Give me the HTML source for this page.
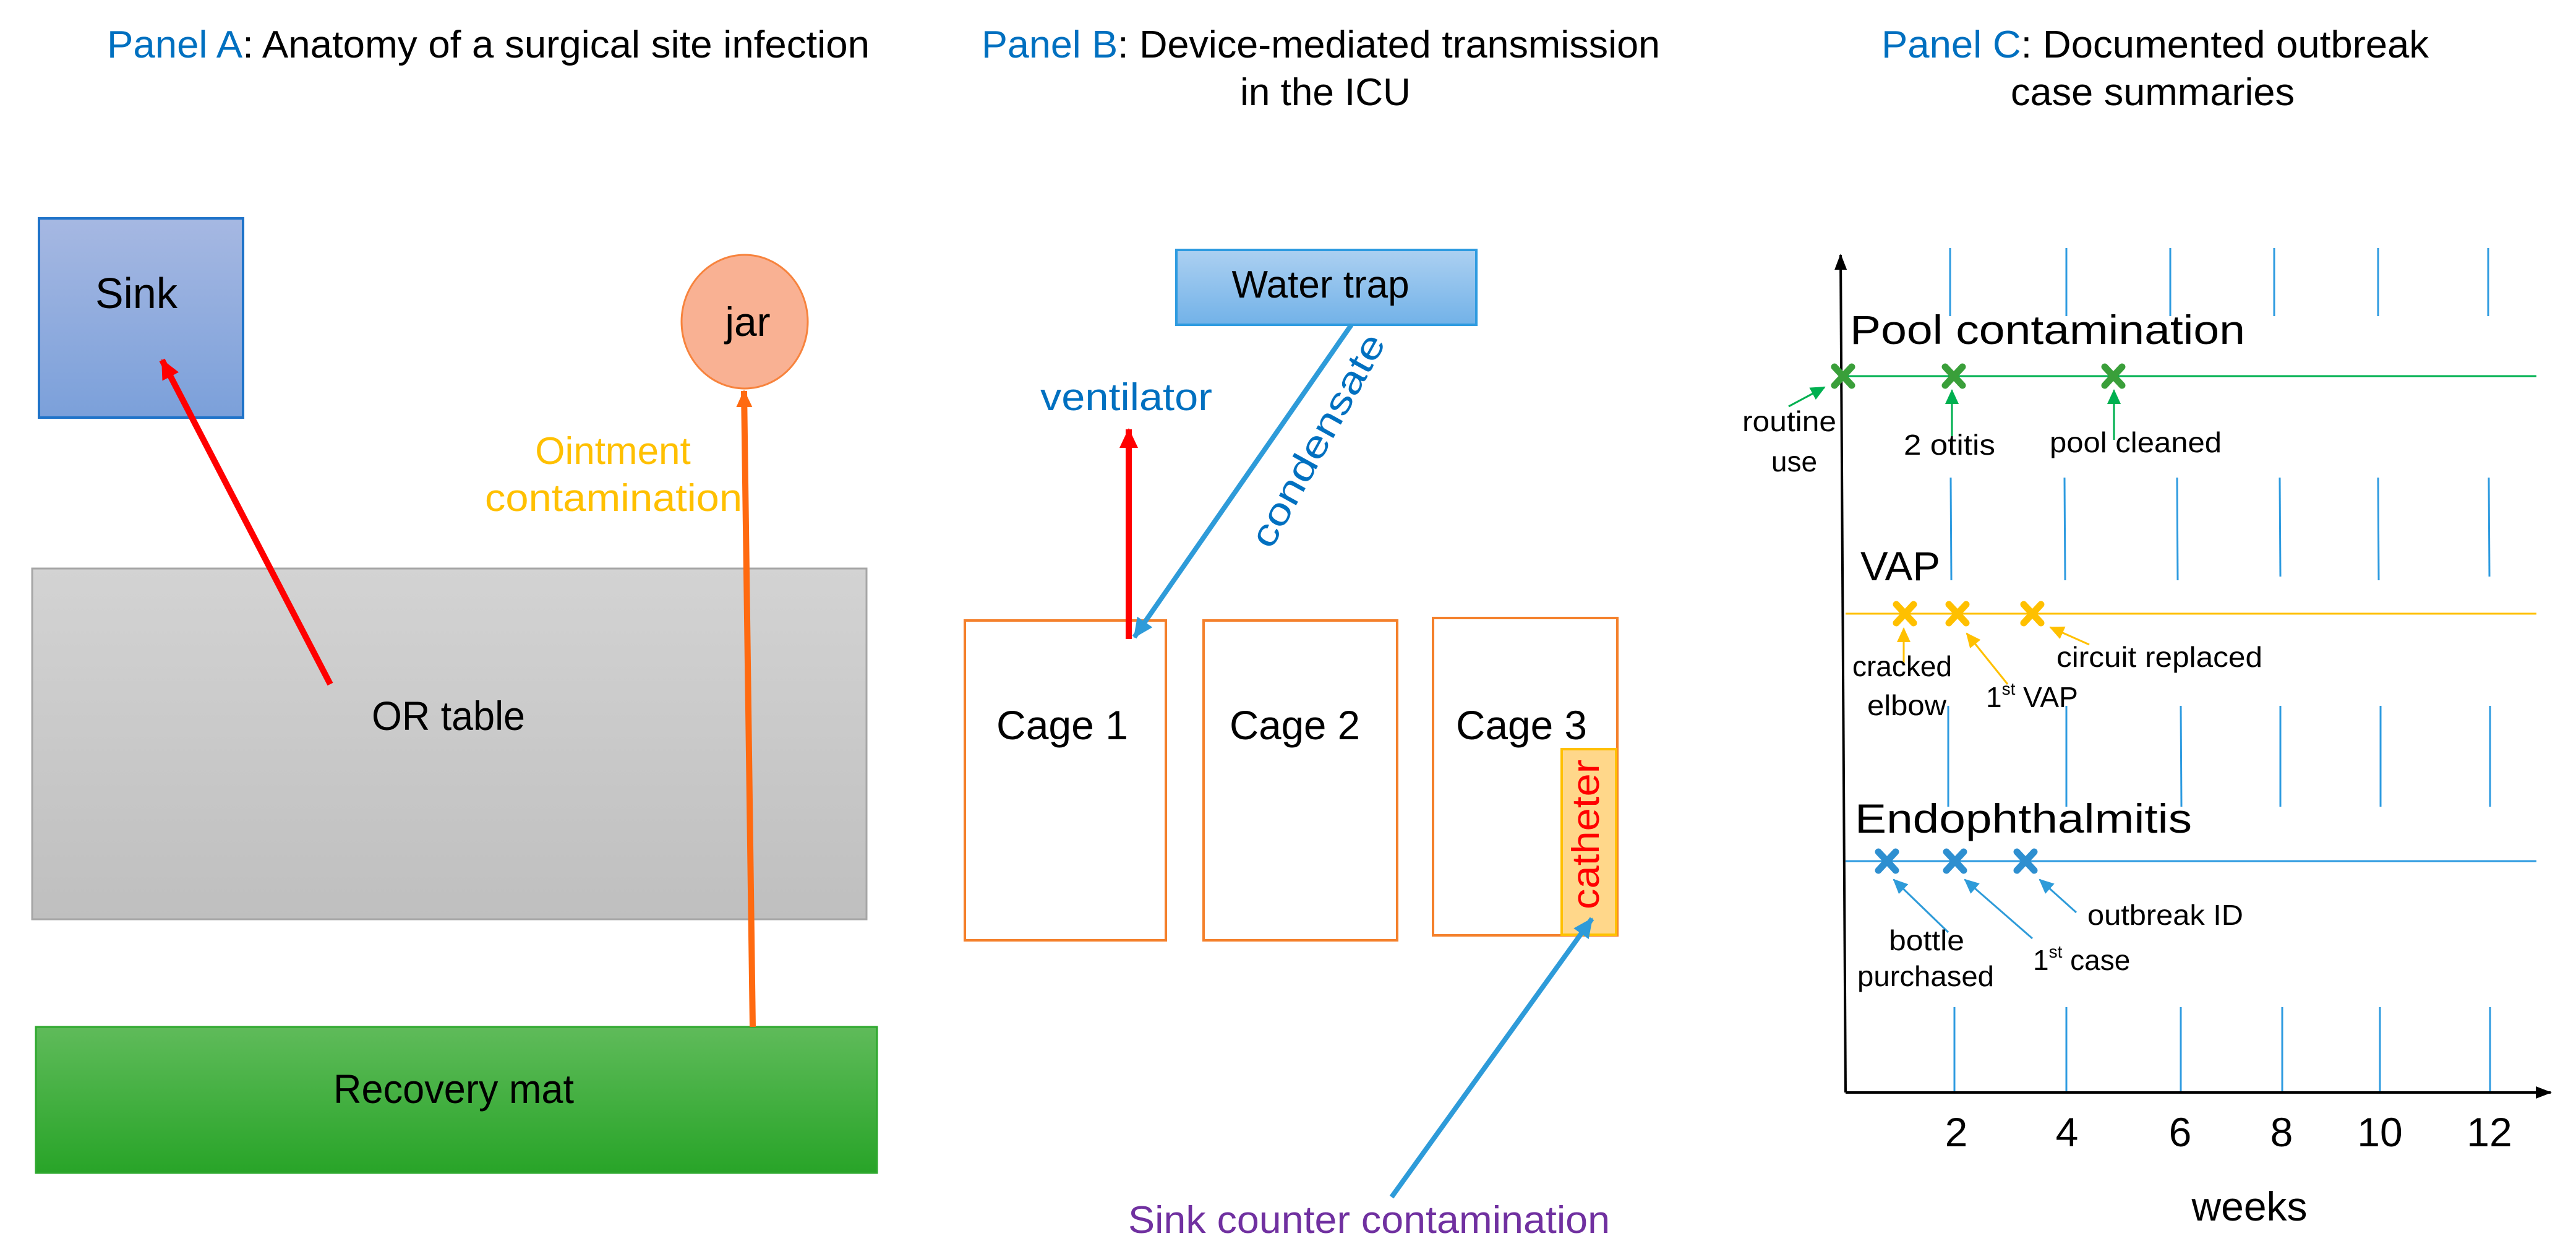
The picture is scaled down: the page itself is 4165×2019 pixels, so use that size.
<!DOCTYPE html>
<html><head><meta charset="utf-8"><style>
html,body{margin:0;padding:0;background:#fff;width:4165px;height:2019px;overflow:hidden}
svg{display:block}
text{font-family:"Liberation Sans",Arial,sans-serif}
</style></head><body>
<svg width="4165" height="2019" viewBox="0 0 4165 2019" xmlns="http://www.w3.org/2000/svg">
<defs>
<linearGradient id="gSink" x1="0" y1="0" x2="0" y2="1"><stop offset="0" stop-color="#a6b8e2"/><stop offset="1" stop-color="#7ba0da"/></linearGradient>
<linearGradient id="gOR" x1="0" y1="0" x2="0" y2="1"><stop offset="0" stop-color="#d3d3d3"/><stop offset="1" stop-color="#bfbfbf"/></linearGradient>
<linearGradient id="gMat" x1="0" y1="0" x2="0" y2="1"><stop offset="0" stop-color="#5fbb5a"/><stop offset="1" stop-color="#28a428"/></linearGradient>
<linearGradient id="gWT" x1="0" y1="0" x2="0" y2="1"><stop offset="0" stop-color="#acd0f1"/><stop offset="1" stop-color="#72b2e8"/></linearGradient>
<marker id="aRed" markerUnits="userSpaceOnUse" markerWidth="40" markerHeight="40" refX="30" refY="15" orient="auto"><path d="M0,0 L32,15 L0,30 Z" fill="#ff0000"/></marker>
<marker id="aOr" markerUnits="userSpaceOnUse" markerWidth="40" markerHeight="40" refX="26" refY="13" orient="auto"><path d="M0,0 L28,13 L0,26 Z" fill="#ff6a10"/></marker>
<marker id="aBlue" markerUnits="userSpaceOnUse" markerWidth="40" markerHeight="40" refX="30" refY="15" orient="auto"><path d="M0,0 L32,15 L0,30 Z" fill="#2e9bd9"/></marker>
<marker id="aGr" markerUnits="userSpaceOnUse" markerWidth="30" markerHeight="30" refX="22" refY="11" orient="auto"><path d="M0,0 L24,11 L0,22 Z" fill="#00b050"/></marker>
<marker id="aYe" markerUnits="userSpaceOnUse" markerWidth="30" markerHeight="30" refX="22" refY="11" orient="auto"><path d="M0,0 L24,11 L0,22 Z" fill="#ffc000"/></marker>
<marker id="aBl2" markerUnits="userSpaceOnUse" markerWidth="30" markerHeight="30" refX="22" refY="11" orient="auto"><path d="M0,0 L24,11 L0,22 Z" fill="#2e9bd9"/></marker>
<marker id="aBk" markerUnits="userSpaceOnUse" markerWidth="30" markerHeight="30" refX="24" refY="10" orient="auto"><path d="M0,0 L26,10 L0,20 Z" fill="#000"/></marker>
</defs>

<!-- Titles -->
<text x="173" y="93" font-size="62" textLength="1233" lengthAdjust="spacingAndGlyphs"><tspan fill="#0070c0">Panel A</tspan><tspan fill="#000">: Anatomy of a surgical site infection</tspan></text>
<text x="1587" y="93" font-size="62" textLength="1097" lengthAdjust="spacingAndGlyphs"><tspan fill="#0070c0">Panel B</tspan><tspan fill="#000">: Device-mediated transmission</tspan></text>
<text x="2143" y="170" font-size="62" text-anchor="middle" fill="#000">in the ICU</text>
<text x="3042" y="93" font-size="62" textLength="885" lengthAdjust="spacingAndGlyphs"><tspan fill="#0070c0">Panel C</tspan><tspan fill="#000">: Documented outbreak</tspan></text>
<text x="3251" y="170" font-size="62" textLength="459" lengthAdjust="spacingAndGlyphs" fill="#000">case summaries</text>

<!-- Panel A -->
<rect x="63" y="353" width="330" height="322" fill="url(#gSink)" stroke="#1f73c9" stroke-width="4"/>
<text x="154" y="498" font-size="70" textLength="133" lengthAdjust="spacingAndGlyphs">Sink</text>
<rect x="52" y="919" width="1349" height="567" fill="url(#gOR)" stroke="#a6a6a6" stroke-width="3"/>
<text x="601" y="1180" font-size="66" textLength="248" lengthAdjust="spacingAndGlyphs">OR table</text>
<rect x="58" y="1660" width="1360" height="236" fill="url(#gMat)" stroke="#2ea82e" stroke-width="3"/>
<text x="539" y="1783" font-size="66" textLength="389" lengthAdjust="spacingAndGlyphs">Recovery mat</text>
<ellipse cx="1204" cy="520" rx="102" ry="108" fill="#f9b193" stroke="#f7833d" stroke-width="3"/>
<text x="1209" y="543" font-size="66" text-anchor="middle">jar</text>
<line x1="534" y1="1106" x2="262" y2="582" stroke="#ff0000" stroke-width="10" marker-end="url(#aRed)"/>
<line x1="1217" y1="1660" x2="1203" y2="632" stroke="#ff6a10" stroke-width="10" marker-end="url(#aOr)"/>
<text x="991" y="750" font-size="62" text-anchor="middle" fill="#ffc000">Ointment</text>
<text x="784" y="826" font-size="62" textLength="416" lengthAdjust="spacingAndGlyphs" fill="#ffc000">contamination</text>

<!-- Panel B -->
<rect x="1902" y="404" width="485" height="121" fill="url(#gWT)" stroke="#2e9be0" stroke-width="4"/>
<text x="2135" y="481" font-size="62" text-anchor="middle">Water trap</text>
<text x="1682" y="663" font-size="62" textLength="278" lengthAdjust="spacingAndGlyphs" fill="#0070c0">ventilator</text>
<rect x="1560" y="1003" width="325" height="517" fill="none" stroke="#f4802b" stroke-width="4"/>
<rect x="1946" y="1003" width="313" height="517" fill="none" stroke="#f4802b" stroke-width="4"/>
<rect x="2317" y="999" width="298" height="513" fill="none" stroke="#f4802b" stroke-width="4"/>
<text x="1611" y="1195" font-size="66" textLength="213" lengthAdjust="spacingAndGlyphs">Cage 1</text>
<text x="1988" y="1195" font-size="66" textLength="211" lengthAdjust="spacingAndGlyphs">Cage 2</text>
<text x="2354" y="1195" font-size="66" textLength="212" lengthAdjust="spacingAndGlyphs">Cage 3</text>
<rect x="2525" y="1211" width="88" height="300" fill="#ffd78a" stroke="#ffc000" stroke-width="4"/>
<text transform="translate(2585,1470) rotate(-90)" font-size="62" textLength="242" lengthAdjust="spacingAndGlyphs" fill="#ff0000">catheter</text>
<line x1="1825" y1="1033" x2="1825" y2="694" stroke="#ff0000" stroke-width="10" marker-end="url(#aRed)"/>
<line x1="2185" y1="525" x2="1834" y2="1030" stroke="#2e9bd9" stroke-width="8" marker-end="url(#aBlue)"/>
<text transform="translate(2055,890) rotate(-61)" font-size="60" fill="#0070c0" textLength="385" lengthAdjust="spacingAndGlyphs">condensate</text>
<line x1="2250" y1="1935" x2="2574" y2="1485" stroke="#2e9bd9" stroke-width="8" marker-end="url(#aBlue)"/>
<text x="1824" y="1993" font-size="62" textLength="779" lengthAdjust="spacingAndGlyphs" fill="#7030a0">Sink counter contamination</text>

<!-- Panel C -->
<g stroke="#2e9be0" stroke-width="3">
<line x1="3153" y1="401" x2="3153" y2="511"/><line x1="3341" y1="401" x2="3341" y2="511"/><line x1="3509" y1="401" x2="3509" y2="511"/><line x1="3677" y1="401" x2="3677" y2="511"/><line x1="3845" y1="401" x2="3845" y2="511"/><line x1="4023" y1="401" x2="4023" y2="511"/>
<line x1="3154" y1="772" x2="3155" y2="938"/><line x1="3338" y1="772" x2="3339" y2="938"/><line x1="3520" y1="772" x2="3521" y2="938"/><line x1="3686" y1="772" x2="3687" y2="932"/><line x1="3845" y1="772" x2="3846" y2="938"/><line x1="4024" y1="772" x2="4025" y2="932"/>
<line x1="3150" y1="1141" x2="3150" y2="1304"/><line x1="3341" y1="1141" x2="3341" y2="1304"/><line x1="3526" y1="1141" x2="3527" y2="1304"/><line x1="3687" y1="1141" x2="3687" y2="1304"/><line x1="3849" y1="1141" x2="3849" y2="1304"/><line x1="4026" y1="1141" x2="4026" y2="1304"/>
<line x1="3160" y1="1628" x2="3160" y2="1766"/><line x1="3341" y1="1628" x2="3341" y2="1766"/><line x1="3526" y1="1628" x2="3526" y2="1766"/><line x1="3690" y1="1628" x2="3690" y2="1766"/><line x1="3848" y1="1628" x2="3848" y2="1766"/><line x1="4026" y1="1628" x2="4026" y2="1766"/>
</g>
<line x1="2984" y1="1766" x2="2976" y2="412" stroke="#000" stroke-width="4" marker-end="url(#aBk)"/>
<line x1="2984" y1="1766" x2="4124" y2="1766" stroke="#000" stroke-width="4" marker-end="url(#aBk)"/>
<g font-size="66" text-anchor="middle"><text x="3163" y="1853">2</text><text x="3342" y="1853">4</text><text x="3525" y="1853">6</text><text x="3689" y="1853">8</text><text x="3848" y="1853">10</text><text x="4025" y="1853">12</text><text x="3637" y="1973">weeks</text></g>

<text x="2991" y="556" font-size="66" textLength="639" lengthAdjust="spacingAndGlyphs">Pool contamination</text>
<line x1="2984" y1="608" x2="4101" y2="608" stroke="#00b050" stroke-width="3"/>
<g stroke="#3a9f3a" stroke-width="11" stroke-linecap="round">
<path d="M2966,593 L2994,623 M2994,593 L2966,623"/><path d="M3145,593 L3173,623 M3173,593 L3145,623"/><path d="M3403,593 L3431,623 M3431,593 L3403,623"/>
</g>
<line x1="2892" y1="657" x2="2950" y2="626" stroke="#00b050" stroke-width="3" marker-end="url(#aGr)"/>
<line x1="3156" y1="711" x2="3156" y2="631" stroke="#00b050" stroke-width="3" marker-end="url(#aGr)"/>
<line x1="3418" y1="711" x2="3418" y2="631" stroke="#00b050" stroke-width="3" marker-end="url(#aGr)"/>
<g font-size="46"><text x="2817" y="697" textLength="152" lengthAdjust="spacingAndGlyphs">routine</text><text x="2901" y="762" text-anchor="middle">use</text>
<text x="3078" y="735" textLength="148" lengthAdjust="spacingAndGlyphs">2 otitis</text><text x="3314" y="731" textLength="278" lengthAdjust="spacingAndGlyphs">pool cleaned</text></g>

<text x="3008" y="938" font-size="66" textLength="129" lengthAdjust="spacingAndGlyphs">VAP</text>
<line x1="2984" y1="992" x2="4101" y2="992" stroke="#ffc000" stroke-width="3"/>
<g stroke="#ffc000" stroke-width="11" stroke-linecap="round">
<path d="M3066,977 L3094,1007 M3094,977 L3066,1007"/><path d="M3151,977 L3179,1007 M3179,977 L3151,1007"/><path d="M3272,977 L3300,1007 M3300,977 L3272,1007"/>
</g>
<line x1="3078" y1="1074" x2="3078" y2="1016" stroke="#ffc000" stroke-width="3" marker-end="url(#aYe)"/>
<line x1="3246" y1="1106" x2="3180" y2="1024" stroke="#ffc000" stroke-width="3" marker-end="url(#aYe)"/>
<line x1="3378" y1="1042" x2="3315" y2="1014" stroke="#ffc000" stroke-width="3" marker-end="url(#aYe)"/>
<g font-size="46"><text x="2995" y="1093" textLength="161" lengthAdjust="spacingAndGlyphs">cracked</text><text x="3019" y="1156" textLength="128" lengthAdjust="spacingAndGlyphs">elbow</text>
<text x="3211" y="1143">1<tspan font-size="28" dy="-20">st</tspan><tspan dy="20"> VAP</tspan></text>
<text x="3325" y="1078" textLength="333" lengthAdjust="spacingAndGlyphs">circuit replaced</text></g>

<text x="2999" y="1346" font-size="66" textLength="545" lengthAdjust="spacingAndGlyphs">Endophthalmitis</text>
<line x1="2984" y1="1392" x2="4101" y2="1392" stroke="#2e9be0" stroke-width="3"/>
<g stroke="#2e8fd0" stroke-width="11" stroke-linecap="round">
<path d="M3037,1377 L3065,1407 M3065,1377 L3037,1407"/><path d="M3147,1377 L3175,1407 M3175,1377 L3147,1407"/><path d="M3261,1377 L3289,1407 M3289,1377 L3261,1407"/>
</g>
<line x1="3150" y1="1507" x2="3062" y2="1422" stroke="#2e9bd9" stroke-width="3" marker-end="url(#aBl2)"/>
<line x1="3286" y1="1517" x2="3177" y2="1422" stroke="#2e9bd9" stroke-width="3" marker-end="url(#aBl2)"/>
<line x1="3357" y1="1475" x2="3298" y2="1422" stroke="#2e9bd9" stroke-width="3" marker-end="url(#aBl2)"/>
<g font-size="46"><text x="3054" y="1536" textLength="122" lengthAdjust="spacingAndGlyphs">bottle</text><text x="3003" y="1594" textLength="221" lengthAdjust="spacingAndGlyphs">purchased</text>
<text x="3287" y="1568">1<tspan font-size="28" dy="-20">st</tspan><tspan dy="20"> case</tspan></text>
<text x="3375" y="1495" textLength="252" lengthAdjust="spacingAndGlyphs">outbreak ID</text></g>
</svg>
</body></html>
